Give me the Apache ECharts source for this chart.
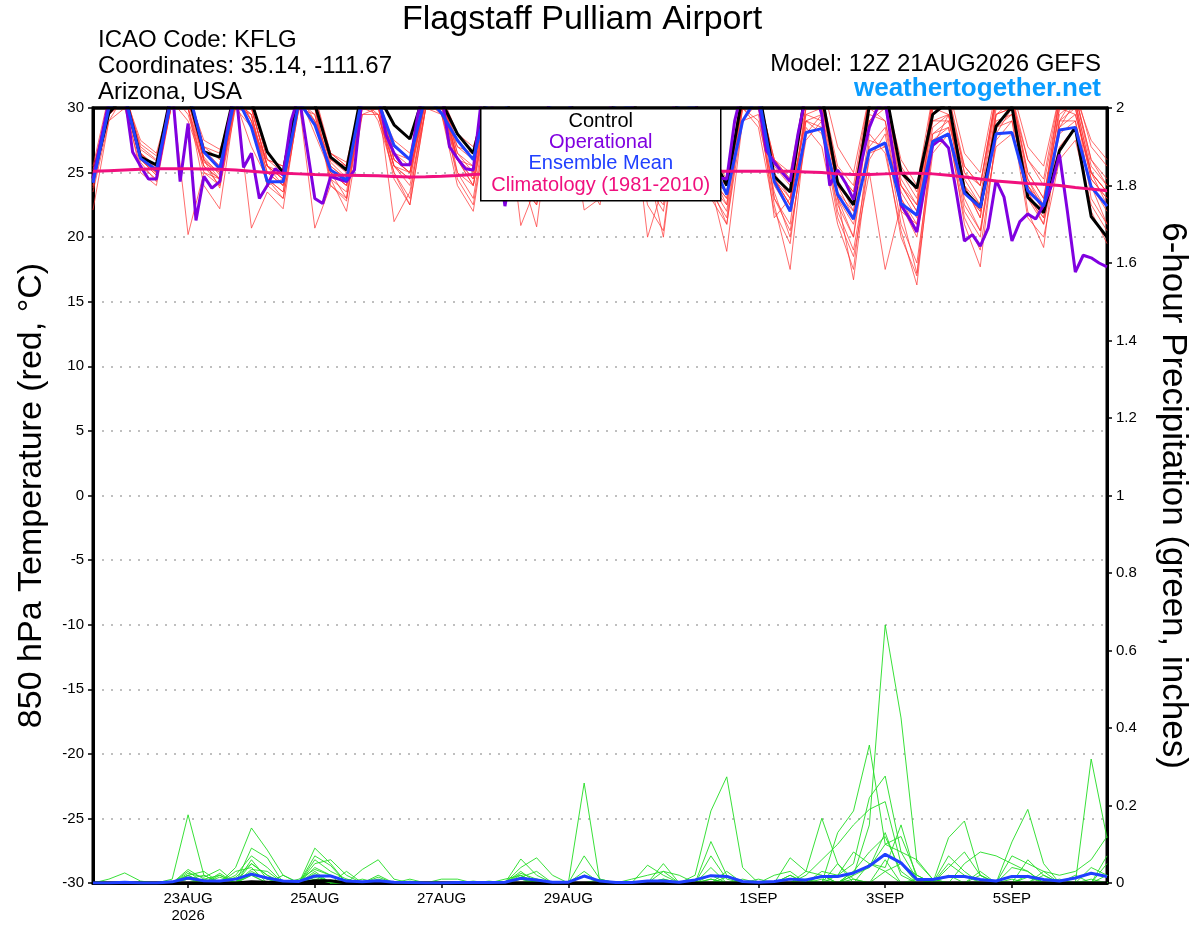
<!DOCTYPE html>
<html>
<head>
<meta charset="utf-8">
<script src="https://cdn.jsdelivr.net/npm/echarts@6/dist/echarts.min.js"></script>
<style>
html,body{margin:0;padding:0;background:#fff;}
#chart{width:1200px;height:927px;}
</style>
</head>
<body>
<div id="chart"></div>
<script>
// ---------- axis ticks ----------
const tickHours  = [36, 84, 132, 180, 252, 300, 348];          // hours after 21AUG 12Z
const tickLabels = ['23AUG\n2026', '25AUG', '27AUG', '29AUG', '1SEP', '3SEP', '5SEP'];
const stepHours = 6;      // ensemble / control / mean output step
const opStepHours = 3;    // operational output step

// ---------- 850 hPa temperature (deg C) ----------
const controlTemp = [24.6,
 29.6,31.0,26.2,25.6, 31.5,31.0,26.6,26.2, 31.5,30.5,26.6,25.0, 31.5,30.3,26.2,25.2,
 31.5,31.0,28.7,27.6, 31.5,30.5,28.0,26.5, 31.5,31.0,27.0,26.0, 31.5,31.0,27.0,26.0,
 31.0,31.0,27.0,25.5, 31.0,30.5,26.5,24.0, 31.0,31.5,24.7,23.5, 31.5,31.0,24.2,22.5,
 30.2,31.5,25.0,23.8, 29.5,30.5,23.6,22.3, 28.6,30.1,23.1,21.9, 26.7,28.5,21.6,20.0];

const meanTemp = [24.2,
 30.0,31.0,26.1,25.2, 31.0,31.5,26.6,25.3, 31.0,28.5,24.3,24.3, 30.5,28.7,25.2,24.4,
 31.0,30.5,27.1,26.0, 31.0,29.6,27.5,26.0, 31.0,30.5,26.5,25.5, 31.0,30.5,26.5,25.5,
 30.5,30.0,26.0,25.0, 30.5,30.0,26.0,23.3, 29.0,31.0,24.3,22.0, 28.1,28.4,23.3,21.4,
 26.7,27.3,22.6,21.7, 27.4,28.0,23.4,22.3, 28.0,28.1,23.6,22.4, 28.3,28.5,23.9,22.4];

const operationalTemp = [
 24.5,27.5,30.5,31.5,31.0,26.6,25.5,24.5,
 24.5,28.0,31.5,24.3,28.8,21.3,24.7,23.8,
 24.3,28.5,31.5,25.4,26.5,23.0,24.0,25.3,
 24.8,29.0,31.0,27.0,23.0,22.6,24.7,24.5,
 24.3,25.2,31.0,32.0,31.0,27.9,26.5,25.6,
 25.6,29.5,31.5,32.0,31.0,27.0,26.1,25.3,
 25.2,30.5,32.0,27.0,22.4,26.0,25.5,25.0,
 24.8,29.0,31.5,32.0,31.0,27.5,26.0,25.5,
 25.2,29.5,31.5,31.5,30.5,27.0,25.8,25.5,
 25.0,29.5,31.5,31.5,30.5,27.0,25.5,24.6,
 24.5,29.0,31.5,32.0,30.5,26.7,25.8,25.0,
 24.3,28.0,31.0,31.5,29.5,24.0,25.2,24.2,
 22.9,25.8,28.5,30.0,30.5,26.5,22.5,21.5,
 20.4,24.0,27.1,27.6,26.9,23.4,19.7,20.2,
 19.3,20.7,24.4,23.1,19.7,21.2,21.8,21.4,
 22.5,24.0,26.4,22.0,17.3,18.6,18.4,18.0,
 17.7];

const climatologyTemp = [
 25.1,25.15,25.2,25.25,25.3,25.3,25.3,25.28,25.25,25.2,25.1,25.0,24.95,
 24.9,24.85,24.82,24.8,24.78,24.75,24.7,24.65,24.68,24.72,24.78,24.85,24.9,
 24.95,25.0,25.02,25.05,25.05,25.08,25.1,25.1,25.1,25.12,25.12,25.12,25.1,
 25.1,25.1,25.1,25.1,25.1,25.1,25.05,25.0,24.9,24.85,24.85,24.9,24.95,
 24.95,24.9,24.8,24.65,24.5,24.35,24.25,24.15,24.1,24.0,23.85,23.72,23.6];

const member01 = [25.0, 30.5,31.5,26.8,25.9, 31.0,31.5,27.0,26.0, 31.5,30.8,26.0,25.5, 31.0,30.5,26.5,25.8, 31.0,30.0,27.5,26.5, 31.5,30.5,27.5,26.0, 31.0,31.0,26.0,25.0, 31.0,30.5,25.5,24.5, 30.5,30.0,25.0,24.0, 30.0,31.0,24.5,23.0, 31.0,31.5,25.5,24.0, 31.0,30.5,24.5,22.0, 29.0,30.0,24.0,22.5, 29.5,30.5,24.0,21.5, 30.0,31.0,25.0,23.0, 29.5,30.5,25.0,23.5];
const member02 = [24.0, 29.5,31.0,26.0,25.0, 31.0,30.0,26.0,25.0, 31.0,28.5,24.0,24.5, 31.0,29.0,25.5,24.5, 31.0,31.0,26.5,26.0, 31.5,30.0,27.0,26.0, 31.5,30.5,26.5,25.5, 31.0,30.0,26.0,24.0, 31.0,30.0,25.5,24.5, 30.5,30.0,25.0,22.5, 30.5,31.5,24.0,22.0, 28.0,29.5,23.0,21.0, 27.0,28.5,22.0,21.0, 28.0,29.0,23.5,22.0, 29.5,30.5,24.0,22.5, 30.0,30.0,24.5,23.0];
const member03 = [24.5, 30.0,31.0,26.5,25.2, 31.0,20.2,25.0,24.0, 30.5,27.0,24.5,23.5, 31.0,28.0,25.0,23.0, 30.5,31.0,26.5,25.5, 31.0,29.5,26.0,24.0, 30.0,31.0,25.0,20.8, 30.5,30.0,24.5,23.5, 31.0,29.0,25.0,24.0, 31.0,30.0,23.5,21.5, 30.0,30.0,23.0,20.5, 27.5,29.0,22.0,19.0, 26.0,28.0,21.0,18.0, 27.0,29.5,22.5,20.5, 28.5,29.5,23.5,21.0, 28.5,30.5,23.0,21.0];
const member04 = [22.1, 29.0,31.0,26.0,24.8, 31.5,31.0,26.5,25.5, 31.0,20.7,23.5,22.2, 30.5,30.0,25.0,24.0, 31.0,29.0,25.0,23.0, 31.0,31.0,26.0,25.0, 31.0,30.0,26.0,25.0, 31.5,31.0,26.5,25.5, 30.5,31.0,25.5,24.5, 31.0,31.0,25.5,23.5, 32.0,30.0,26.0,24.5, 30.0,31.0,25.0,23.5, 30.5,31.0,24.0,22.0, 31.0,31.0,25.0,23.0, 31.0,30.5,26.0,24.5, 31.0,31.5,27.0,25.5];
const member05 = [24.8, 30.0,30.5,26.5,25.5, 31.0,31.5,27.0,26.5, 31.5,29.0,25.5,25.0, 30.5,20.7,24.0,22.8, 30.0,29.5,25.5,24.5, 31.0,30.5,26.0,25.5, 30.5,30.0,25.5,24.5, 31.0,30.0,22.1,23.0, 30.0,31.0,25.0,23.5, 30.5,30.0,24.0,18.9, 29.0,30.5,24.5,22.5, 29.5,29.0,23.0,20.0, 28.0,26.5,20.5,16.3, 27.5,28.5,22.0,20.0, 29.0,29.5,23.0,21.0, 27.0,28.5,24.0,22.0];
const member06 = [25.2, 30.5,31.0,27.0,26.0, 31.0,30.5,26.0,24.5, 30.5,30.0,25.5,24.5, 31.0,30.0,25.0,24.0, 30.0,30.5,21.2,23.5, 30.0,30.0,26.0,24.0, 31.0,31.0,20.9,24.0, 31.0,31.0,26.0,25.0, 31.0,30.5,25.5,24.0, 31.0,30.0,24.0,22.5, 31.5,31.0,23.0,21.0, 30.0,30.0,24.0,21.5, 29.0,30.5,23.0,20.5, 30.0,29.5,24.0,21.5, 29.5,30.0,24.0,22.0, 30.0,29.5,25.0,22.5];
const member07 = [23.5, 29.0,30.0,25.5,24.5, 30.5,31.0,26.0,23.8, 30.0,29.5,24.0,23.0, 30.0,29.5,24.5,22.0, 29.5,30.0,24.5,22.5, 30.0,30.5,24.5,22.5, 30.0,30.5,25.0,23.5, 30.5,30.0,25.0,23.5, 30.5,29.5,25.5,20.0, 30.0,29.0,24.0,21.0, 30.0,28.5,22.0,19.5, 29.0,28.0,22.5,20.0, 30.0,29.0,22.0,17.2, 28.0,28.5,21.0,17.7, 28.0,30.0,22.0,19.2, 29.0,29.0,22.0,19.5];
const member08 = [24.6, 30.5,31.5,26.5,25.4, 31.5,31.0,26.8,25.5, 31.5,30.5,26.0,25.5, 31.5,31.0,26.0,25.0, 31.0,30.5,27.0,26.0, 31.0,31.0,27.0,26.5, 31.5,31.0,27.0,26.0, 31.0,31.0,26.5,25.0, 31.0,31.0,26.0,25.0, 31.0,31.5,26.5,24.5, 31.0,31.0,26.0,25.0, 31.5,32.0,27.0,25.0, 31.0,31.0,26.0,24.0, 31.0,31.5,26.5,25.0, 31.5,31.5,27.0,25.5, 31.0,31.0,27.5,26.0];
const member09 = [24.3, 30.0,31.0,27.2,26.3, 30.5,29.0,25.5,24.0, 30.5,29.5,25.0,24.0, 30.5,29.0,26.0,25.5, 31.0,30.5,26.0,25.0, 30.5,31.0,26.0,24.5, 31.0,30.5,25.5,24.0, 31.0,31.0,26.0,24.5, 30.0,29.5,22.5,20.5, 30.0,30.5,25.0,24.0, 30.0,29.0,23.5,20.0, 28.0,28.5,21.5,18.5, 25.0,17.5,22.5,20.0, 27.5,28.0,23.0,20.5, 27.0,28.0,24.5,22.0, 28.0,29.0,24.0,21.0];
const member10 = [25.5, 31.0,31.0,27.5,26.5, 31.0,31.0,27.5,26.8, 30.0,28.5,26.0,25.0, 31.0,30.0,26.5,25.5, 31.0,30.5,27.0,26.0, 31.0,31.0,28.0,27.0, 31.0,31.0,26.0,25.0, 30.5,31.0,26.0,25.5, 31.0,30.0,25.0,24.5, 30.5,31.0,25.0,24.0, 31.0,31.0,26.0,24.5, 30.5,31.0,25.5,24.0, 31.0,31.5,25.0,23.0, 30.5,31.0,25.5,24.0, 31.0,31.0,26.0,24.0, 30.5,31.0,26.0,24.5];
const member11 = [24.0, 29.5,30.5,25.8,24.3, 30.5,30.0,25.5,24.5, 31.0,29.0,24.5,23.5, 30.5,29.5,24.5,23.5, 30.5,30.0,25.5,24.5, 30.5,29.5,24.0,22.0, 30.0,29.5,24.5,22.5, 30.0,30.0,24.5,23.0, 29.5,30.0,24.0,22.0, 29.5,30.0,23.0,21.0, 29.0,29.5,22.5,17.5, 28.5,27.0,21.0,17.5, 27.5,27.0,20.0,17.0, 26.5,28.0,21.5,19.0, 27.5,29.0,21.5,20.0, 26.0,27.5,22.5,20.5];
const member12 = [24.9, 30.5,31.0,26.2,25.0, 31.0,30.5,26.2,24.8, 31.0,30.0,25.5,24.5, 31.0,30.5,25.8,24.6, 31.0,31.0,26.0,25.0, 31.0,31.0,26.5,25.5, 31.5,31.0,26.5,25.5, 31.0,30.5,26.0,25.0, 31.0,30.5,25.5,24.5, 31.0,30.0,24.5,23.0, 31.5,31.0,24.5,22.5, 29.5,30.0,25.0,23.5, 30.0,31.0,25.5,23.5, 29.0,29.5,25.0,24.0, 30.5,30.0,23.5,21.5, 29.0,31.0,26.0,24.0];
const member13 = [23.8, 29.5,30.5,25.0,24.0, 30.5,30.0,24.0,22.2, 30.5,29.5,24.5,23.0, 30.0,30.0,24.0,23.0, 30.5,29.5,25.0,22.5, 30.0,31.0,25.0,23.0, 30.5,30.0,24.0,22.5, 30.0,30.5,24.5,22.5, 30.5,30.0,24.0,22.5, 30.0,30.5,24.0,22.0, 30.5,30.0,24.5,23.0, 29.0,29.5,24.0,22.5, 29.5,29.0,23.5,21.5, 28.5,29.5,23.5,22.0, 29.5,30.0,23.0,21.5, 29.0,30.0,24.5,23.0];
const member14 = [24.4, 30.0,30.5,26.0,25.0, 30.5,30.0,25.0,24.5, 31.0,29.0,25.0,24.0, 30.5,29.0,25.0,24.0, 29.5,29.5,25.5,24.0, 30.0,29.5,25.0,24.0, 30.5,31.0,25.5,24.0, 30.5,30.0,25.0,24.0, 30.0,29.5,25.0,23.5, 29.5,30.0,25.0,23.5, 30.5,30.5,21.5,23.0, 29.0,28.5,23.0,16.7, 26.5,27.0,24.0,22.0, 29.0,29.0,24.5,22.5, 28.5,29.0,24.0,22.0, 28.5,29.5,25.0,23.5];
const member15 = [24.7, 30.0,31.0,26.4,25.3, 31.0,29.5,25.5,24.5, 30.5,30.0,25.5,24.5, 31.0,31.0,26.5,25.5, 31.0,30.5,25.5,25.0, 31.0,30.5,26.0,24.5, 30.5,30.5,26.5,25.0, 30.5,31.0,25.5,24.5, 31.0,30.5,20.0,24.0, 31.0,30.5,25.5,24.5, 30.5,31.0,25.0,23.0, 31.0,31.0,24.0,22.5, 31.0,31.0,24.5,22.5, 30.5,30.0,25.5,24.0, 31.0,30.5,25.0,23.0, 30.5,31.0,25.5,24.0];
const member16 = [25.0, 30.5,31.0,26.0,24.8, 30.5,31.0,25.8,25.0, 31.0,30.0,25.5,24.0, 30.0,30.5,25.5,24.5, 30.5,31.0,26.0,25.0, 30.5,31.0,26.5,25.0, 31.0,30.5,25.5,24.5, 31.0,31.0,26.0,24.5, 31.0,30.5,25.5,24.0, 30.5,31.0,24.5,23.5, 31.0,31.0,24.5,22.5, 30.0,30.5,23.5,22.0, 30.0,30.5,23.0,21.0, 30.0,30.5,24.0,22.5, 30.5,31.0,24.5,22.5, 31.0,30.5,25.0,23.5];
const tempMembers = [member01, member02, member03, member04, member05, member06, member07, member08,
                     member09, member10, member11, member12, member13, member14, member15, member16];

// ---------- 6-hour precipitation (inches) ----------
const precip01 = [0,0,0,0,0,0.01,0.176,0.02,0,0,0.03,0.01,0, 0,0.02,0,0,0,0,0,0,0,0,0,0,0, 0,0.01,0,0,0,0,0,0,0,0,0,0,0, 0.01,0,0,0,0,0,0,0,0,0.02,0.15,0.666,0.426, 0.054,0.01,0,0,0,0,0,0.02,0,0,0,0,0];
const precip02 = [0,0.01,0.026,0.005,0,0,0,0,0,0.04,0.142,0.085,0.02, 0,0.05,0.06,0.02,0,0,0,0,0,0,0,0,0, 0,0,0,0,0,0.258,0,0,0,0,0,0,0.02, 0.186,0.274,0.04,0,0,0,0,0,0,0,0.05,0.03,0, 0,0,0,0,0,0,0,0,0,0,0,0.32,0.116];
const precip03 = [0,0,0,0,0,0,0.03,0,0.02,0,0.09,0.065,0, 0,0.09,0.05,0,0.035,0.06,0.01,0,0,0,0,0,0, 0,0.062,0.02,0,0,0,0,0,0,0,0,0,0, 0,0,0,0,0,0.065,0.03,0.167,0.05,0,0,0,0, 0,0,0.117,0.16,0.02,0,0,0,0,0,0,0,0];
const precip04 = [0,0,0,0,0,0,0.02,0.03,0,0.02,0.07,0.04,0, 0,0.07,0.045,0,0,0,0,0,0,0,0,0,0, 0,0.04,0.065,0.02,0,0,0,0,0,0,0.05,0,0, 0.107,0.02,0,0,0,0,0,0,0.13,0.186,0.356,0.1,0.12, 0.02,0,0,0,0,0,0.106,0.19,0.05,0,0,0,0];
const precip05 = [0,0,0,0,0,0,0.025,0.015,0.035,0,0.05,0.02,0, 0,0.06,0.03,0.01,0,0.01,0,0,0,0,0,0,0, 0,0.03,0,0,0,0.07,0.01,0,0,0.046,0.02,0,0, 0.07,0.01,0,0,0,0,0.02,0.06,0.1,0.15,0.19,0.21,0.05, 0,0,0,0.05,0.08,0.07,0.05,0.03,0,0,0,0,0.05];
const precip06 = [0,0,0,0,0,0,0.02,0,0,0.03,0.04,0,0.02, 0,0.03,0,0.03,0,0.02,0,0.01,0,0,0,0,0, 0.01,0.02,0,0,0,0.03,0,0,0.01,0.02,0.03,0,0, 0,0,0,0,0.02,0.03,0,0,0.02,0.05,0.22,0.276,0.08, 0.01,0,0.05,0.02,0,0,0,0,0.03,0.02,0.03,0.06,0.12];
const precip07 = [0,0,0,0,0,0,0.015,0,0.025,0,0.035,0.03,0, 0,0.04,0.02,0,0.01,0,0,0,0,0.01,0.01,0,0, 0,0.025,0.01,0,0,0.02,0,0,0,0,0.01,0,0, 0,0,0,0.01,0,0.02,0,0.03,0.02,0.08,0.05,0.04,0.15, 0.01,0,0.07,0.03,0,0,0.04,0.03,0,0,0.02,0,0];
const precip08 = [0,0,0,0,0,0,0.01,0.02,0,0,0.06,0.01,0, 0.01,0.035,0.02,0,0,0,0,0,0,0,0,0,0, 0,0.015,0.03,0,0,0,0,0,0,0,0,0,0, 0.04,0,0.01,0,0,0,0.03,0.02,0,0.03,0.08,0.12,0.03, 0,0,0.02,0,0,0,0.07,0.05,0.03,0,0,0.04,0.02];
const precip09 = [0,0,0,0,0,0,0,0.01,0.02,0,0.02,0,0, 0,0.02,0,0,0,0,0,0,0,0,0,0,0.005,0, 0,0.01,0,0,0,0,0,0,0,0.03,0.02,0,0.01, 0,0,0,0,0,0.01,0,0.05,0.01,0,0.03,0.05,0.02, 0,0,0,0.03,0,0.01,0,0.02,0,0,0.01,0,0.03];
const precip10 = [0,0,0,0,0,0,0.035,0.01,0,0.015,0.05,0.02,0, 0,0.025,0,0.01,0,0.015,0,0,0,0,0,0,0, 0,0.02,0,0,0,0.02,0,0,0,0,0,0,0, 0.02,0,0,0,0,0.02,0,0,0,0.02,0.04,0.13,0.02, 0,0,0,0,0.02,0,0,0.06,0.02,0,0,0,0];
const precip11 = [0,0,0,0,0,0,0.01,0,0,0,0.025,0.01,0, 0,0.015,0,0,0,0,0,0.005,0,0,0,0,0, 0,0.01,0,0,0,0,0,0,0,0,0.01,0,0, 0,0.015,0,0,0,0,0,0.02,0,0.01,0,0.06,0, 0.01,0,0.04,0.08,0.02,0,0,0,0,0.01,0,0,0.07];
const precip12 = [0,0,0,0,0,0,0.02,0,0.015,0,0.02,0,0, 0,0.01,0,0,0,0,0,0,0,0,0,0.005,0,0, 0,0.005,0,0,0,0.01,0,0,0,0,0,0,0, 0.03,0,0,0,0,0,0.01,0,0.03,0.04,0.1,0.08,0.06, 0.01,0,0,0,0,0,0.015,0,0,0,0,0.02,0];
const precipMembers = [precip01, precip02, precip03, precip04, precip05, precip06,
                       precip07, precip08, precip09, precip10, precip11, precip12];

const meanPrecip = [0,0,0.002,0,0,0.003,0.013,0.006,0.005,0.01,0.023,0.013,0.005,
 0.004,0.018,0.018,0.005,0.003,0.006,0.002,0.001,0,0,0.001,0.001,0.001,
 0.002,0.012,0.008,0.002,0.002,0.018,0.005,0.001,0.001,0.005,0.005,0.002,0.008,
 0.019,0.017,0.004,0.002,0.004,0.01,0.008,0.017,0.017,0.026,0.044,0.074,0.052,
 0.009,0.009,0.017,0.017,0.009,0.005,0.017,0.017,0.009,0.005,0.013,0.025,0.017];

const controlPrecip = [0,0,0,0,0,0,0,0,0,0,0.003,0.002,0,
 0,0.006,0.006,0,0,0,0,0,0,0,0,0,0,
 0,0,0,0,0,0,0,0,0,0,0,0,0,
 0,0,0,0,0,0,0,0,0,0,0,0,0,
 0,0,0,0,0,0,0,0,0,0,0,0,0];

// ---------- build chart ----------
const FONT = '"Liberation Sans", Arial, Helvetica, sans-serif';
function toPairs(arr, step) { return arr.map((v, i) => [i * step, v]); }

const series = [];
precipMembers.forEach((m, k) => series.push({
  name: 'precip member ' + (k + 1), type: 'line', yAxisIndex: 1, data: toPairs(m, stepHours),
  symbol: 'none', silent: true, z: 2,
  lineStyle: { color: '#22dd22', width: 0.9 }
}));
tempMembers.forEach((m, k) => series.push({
  name: 'temp member ' + (k + 1), type: 'line', yAxisIndex: 0, data: toPairs(m, stepHours),
  symbol: 'none', silent: true, z: 3,
  lineStyle: { color: 'rgba(255,50,50,0.8)', width: 0.9 }
}));
series.push({ name: 'Control precip', type: 'line', yAxisIndex: 1, data: toPairs(controlPrecip, stepHours),
  symbol: 'none', z: 4, lineStyle: { color: '#000', width: 3 } });
series.push({ name: 'Mean precip', type: 'line', yAxisIndex: 1, data: toPairs(meanPrecip, stepHours),
  symbol: 'none', z: 5, lineStyle: { color: '#2040ff', width: 3 } });
series.push({ name: 'Control', type: 'line', yAxisIndex: 0, data: toPairs(controlTemp, stepHours),
  symbol: 'none', z: 6, lineStyle: { color: '#000', width: 3 } });
series.push({ name: 'Operational', type: 'line', yAxisIndex: 0, data: toPairs(operationalTemp, opStepHours),
  symbol: 'none', z: 7, lineStyle: { color: '#8000e0', width: 3 } });
series.push({ name: 'Ensemble Mean', type: 'line', yAxisIndex: 0, data: toPairs(meanTemp, stepHours),
  symbol: 'none', z: 8, lineStyle: { color: '#2040ff', width: 3 } });
series.push({ name: 'Climatology', type: 'line', yAxisIndex: 0, data: toPairs(climatologyTemp, stepHours),
  symbol: 'none', z: 9, lineStyle: { color: '#f0107e', width: 3 } });

const option = {
  animation: false,
  backgroundColor: '#fff',
  textStyle: { fontFamily: FONT },
  grid: { left: 93, right: 93, top: 108, bottom: 44, show: true, borderColor: '#000', borderWidth: 3, backgroundColor: '#fff' },
  xAxis: {
    type: 'value', min: 0, max: 384,
    axisLine: { show: true, onZero: false, lineStyle: { color: '#000', width: 3 } },
    axisTick: { show: true, customValues: tickHours, length: 5, lineStyle: { color: '#000', width: 1.5 } },
    axisLabel: {
      customValues: tickHours, color: '#000', fontSize: 15, fontFamily: FONT, margin: 7, lineHeight: 17,
      formatter: v => { const k = tickHours.indexOf(v); return k >= 0 ? tickLabels[k] : ''; }
    },
    splitLine: { show: false }
  },
  yAxis: [
    {
      type: 'value', min: -30, max: 30, interval: 5, position: 'left',
      name: '850 hPa Temperature (red, °C)', nameLocation: 'middle', nameGap: 44,
      nameTextStyle: { fontSize: 34, color: '#000', fontFamily: FONT },
      axisLine: { show: true, onZero: false, lineStyle: { color: '#000', width: 3 } },
      axisTick: { show: true, length: 5, lineStyle: { color: '#000', width: 1.5 } },
      axisLabel: { color: '#000', fontSize: 15, fontFamily: FONT, margin: 9 },
      splitLine: { show: true, showMinLine: false, showMaxLine: false,
                   lineStyle: { color: '#aaaaaa', width: 1.5, type: [2, 7] } }
    },
    {
      type: 'value', min: 0, max: 2, interval: 0.2, position: 'right',
      name: '6-hour Precipitation (green, inches)', nameLocation: 'middle', nameGap: 48, nameRotate: -90,
      nameTextStyle: { fontSize: 35, color: '#000', fontFamily: FONT },
      axisLine: { show: true, onZero: false, lineStyle: { color: '#000', width: 3 } },
      axisTick: { show: true, length: 5, lineStyle: { color: '#000', width: 1.5 } },
      axisLabel: { color: '#000', fontSize: 15, fontFamily: FONT, margin: 9 },
      splitLine: { show: false }
    }
  ],
  graphic: [
    { type: 'line', z: 60, shape: { x1: 92, y1: 108, x2: 1108, y2: 108 },
      style: { stroke: '#000', lineWidth: 3 } },
    { type: 'text', left: 402, top: 3, z: 50,
      style: { text: 'Flagstaff Pulliam Airport', fontSize: 34, fontFamily: FONT, fill: '#000' } },
    { type: 'text', left: 98, top: 28, z: 50,
      style: { text: 'ICAO Code: KFLG', fontSize: 24, fontFamily: FONT, fill: '#000' } },
    { type: 'text', left: 98, top: 54, z: 50,
      style: { text: 'Coordinates: 35.14, -111.67', fontSize: 24, fontFamily: FONT, fill: '#000' } },
    { type: 'text', left: 98, top: 80, z: 50,
      style: { text: 'Arizona, USA', fontSize: 24, fontFamily: FONT, fill: '#000' } },
    { type: 'text', right: 99, top: 52, z: 50,
      style: { text: 'Model: 12Z 21AUG2026 GEFS', fontSize: 24, fontFamily: FONT, fill: '#000' } },
    { type: 'text', right: 99, top: 76, z: 50,
      style: { text: 'weathertogether.net', fontSize: 26, fontWeight: 'bold', fontFamily: FONT, fill: '#0a9cff' } },
    { type: 'group', left: 480, top: 108, z: 100, children: [
      { type: 'rect', shape: { x: 0, y: 0, width: 240, height: 92 },
        style: { fill: '#fff', stroke: '#000', lineWidth: 1.5 }, z: 100 },
      { type: 'text', x: 120, y: 13, z: 101,
        style: { text: 'Control', fontSize: 20, fontFamily: FONT, fill: '#000', align: 'center', verticalAlign: 'middle' } },
      { type: 'text', x: 120, y: 34, z: 101,
        style: { text: 'Operational', fontSize: 20, fontFamily: FONT, fill: '#8000e0', align: 'center', verticalAlign: 'middle' } },
      { type: 'text', x: 120, y: 55, z: 101,
        style: { text: 'Ensemble Mean', fontSize: 20, fontFamily: FONT, fill: '#2040ff', align: 'center', verticalAlign: 'middle' } },
      { type: 'text', x: 120, y: 77, z: 101,
        style: { text: 'Climatology (1981-2010)', fontSize: 20, fontFamily: FONT, fill: '#f0107e', align: 'center', verticalAlign: 'middle' } }
    ] }
  ],
  series: series
};

const chart = echarts.init(document.getElementById('chart'), null, { renderer: 'canvas' });
chart.setOption(option);
</script>
</body>
</html>
